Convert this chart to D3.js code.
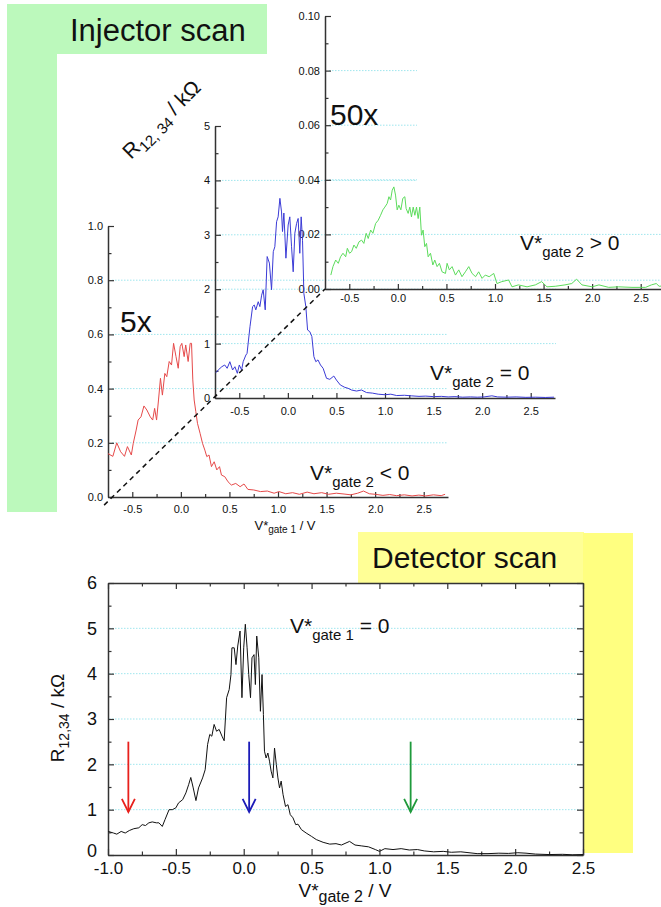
<!DOCTYPE html>
<html><head><meta charset="utf-8">
<script src="https://cdn.jsdelivr.net/npm/d3@7"></script>
<style>
body{margin:0;background:#fff}
svg{display:block}
text{font-family:"Liberation Sans",Arial,Helvetica,sans-serif}
</style>
</head><body><svg id="c" width="661" height="907"></svg>
<script>
// ---------------- DATA ----------------
const injXTicks = [-0.5, 0, 0.5, 1, 1.5, 2, 2.5];
const injXMinor = [-0.75, -0.25, 0.25, 0.75, 1.25, 1.75, 2.25];
const redYTicks = [0, 0.2, 0.4, 0.6, 0.8, 1.0];
const redYMinor = [0.1, 0.3, 0.5, 0.7, 0.9];
const blueYTicks = [0, 1, 2, 3, 4, 5];
const blueYMinor = [0.5, 1.5, 2.5, 3.5, 4.5];
const greenYTicks = [0, 0.02, 0.04, 0.06, 0.08, 0.10];
const greenYMinor = [0.01, 0.03, 0.05, 0.07, 0.09];
const detXTicks = [-1, -0.5, 0, 0.5, 1, 1.5, 2, 2.5];
const detXMinor = [-0.75, -0.25, 0.25, 0.75, 1.25, 1.75, 2.25];
const detYTicks = [0, 1, 2, 3, 4, 5, 6];
const detYMinor = [0.5, 1.5, 2.5, 3.5, 4.5, 5.5];

// injector scan, V*gate2 < 0 (red)
const redCurve = [
[-0.75,0.16],[-0.70,0.15],[-0.66,0.20],[-0.62,0.167],[-0.58,0.15],[-0.55,0.186],[-0.51,0.155],[-0.49,0.198],
[-0.46,0.247],[-0.44,0.284],[-0.41,0.296],[-0.38,0.336],[-0.35,0.321],[-0.315,0.296],[-0.29,0.284],[-0.27,0.327],
[-0.25,0.284],[-0.23,0.358],[-0.21,0.438],[-0.19,0.376],[-0.165,0.456],[-0.145,0.444],[-0.12,0.50],[-0.096,0.487],
[-0.075,0.567],[-0.05,0.518],[-0.027,0.475],[-0.007,0.555],[0.01,0.567],[0.034,0.518],[0.05,0.561],[0.075,0.50],
[0.096,0.567],[0.11,0.567],[0.123,0.432],[0.137,0.358],[0.154,0.315],[0.171,0.272],[0.198,0.235],[0.223,0.198],
[0.247,0.173],[0.267,0.149],[0.29,0.155],[0.315,0.112],[0.343,0.130],[0.37,0.10],[0.398,0.112],[0.418,0.081],
[0.452,0.075],[0.486,0.056],[0.52,0.044],[0.565,0.05],[0.61,0.038],[0.65,0.048],[0.69,0.028],[0.75,0.026],
[0.82,0.020],[0.89,0.022],[0.96,0.014],[1.01,0.02],[1.08,0.012],[1.15,0.016],[1.22,0.010],[1.30,0.018],
[1.37,0.012],[1.45,0.016],[1.52,0.010],[1.60,0.014],[1.68,0.011],[1.75,0.008],[1.82,0.014],[1.88,0.022],
[1.94,0.012],[2.00,0.010],[2.08,0.006],[2.15,0.009],[2.22,0.005],[2.30,0.008],[2.38,0.004],[2.45,0.007],
[2.52,0.004],[2.60,0.008],[2.68,0.005],[2.72,0.010]
];
// injector scan, V*gate2 = 0 (blue)
const blueCurve = [
[-0.74,0.465],[-0.717,0.515],[-0.68,0.575],[-0.65,0.607],[-0.625,0.546],[-0.597,0.667],[-0.569,0.515],[-0.545,0.575],
[-0.52,0.454],[-0.50,0.607],[-0.476,0.515],[-0.46,0.667],[-0.432,0.79],[-0.42,0.82],[-0.39,1.31],[-0.363,1.68],
[-0.346,1.71],[-0.33,1.62],[-0.305,1.77],[-0.288,1.68],[-0.27,1.89],[-0.254,1.99],[-0.233,1.62],[-0.213,2.60],
[-0.19,2.48],[-0.168,1.99],[-0.15,2.69],[-0.134,2.78],[-0.116,3.24],[-0.10,3.33],[-0.082,3.67],[-0.065,3.42],
[-0.055,3.06],[-0.041,3.40],[-0.02,2.57],[0.003,3.18],[0.02,3.33],[0.038,2.78],[0.055,2.32],[0.072,3.03],
[0.09,3.21],[0.106,3.30],[0.123,2.66],[0.137,3.33],[0.151,2.90],[0.165,1.92],[0.185,1.68],[0.203,1.25],
[0.226,1.22],[0.247,1.13],[0.268,0.76],[0.288,0.667],[0.31,0.70],[0.336,0.607],[0.363,0.546],[0.398,0.362],
[0.432,0.343],[0.473,0.404],[0.50,0.33],[0.54,0.239],[0.586,0.196],[0.62,0.178],[0.655,0.147],[0.707,0.128],
[0.758,0.147],[0.81,0.10],[0.87,0.09],[0.93,0.07],[1.00,0.06],[1.06,0.07],[1.12,0.045],[1.20,0.05],
[1.27,0.04],[1.35,0.03],[1.42,0.035],[1.50,0.025],[1.58,0.03],[1.65,0.02],[1.72,0.025],[1.80,0.015],
[1.88,0.02],[1.95,0.015],[2.02,0.02],[2.10,0.04],[2.16,0.02],[2.25,0.015],[2.35,0.02],[2.45,0.012],
[2.55,0.015],[2.65,0.01],[2.74,0.015]
];
// injector scan, V*gate2 > 0 (green)
const greenCurve = [
[-0.69,0.0051],[-0.668,0.0082],[-0.64,0.0106],[-0.613,0.0094],[-0.59,0.0118],[-0.565,0.0131],[-0.537,0.0118],[-0.52,0.0149],
[-0.497,0.0131],[-0.476,0.0137],[-0.452,0.0161],[-0.428,0.0149],[-0.40,0.0173],[-0.373,0.0179],[-0.35,0.0167],[-0.326,0.0204],
[-0.305,0.0185],[-0.28,0.0216],[-0.257,0.0204],[-0.229,0.024],[-0.202,0.0252],[-0.178,0.027],[-0.154,0.029],[-0.134,0.030],
[-0.11,0.0313],[-0.092,0.0338],[-0.075,0.0326],[-0.058,0.0362],[-0.041,0.0374],[-0.024,0.0344],[-0.007,0.029],[0.01,0.0307],
[0.031,0.029],[0.051,0.0332],[0.072,0.0338],[0.085,0.0295],[0.106,0.0277],[0.123,0.030],[0.14,0.0264],[0.158,0.030],
[0.175,0.027],[0.192,0.030],[0.209,0.0258],[0.226,0.030],[0.243,0.0197],[0.26,0.0216],[0.277,0.0155],[0.295,0.0167],
[0.312,0.0118],[0.336,0.0131],[0.36,0.0088],[0.38,0.0106],[0.404,0.0082],[0.428,0.0094],[0.455,0.0063],[0.49,0.0057],
[0.507,0.0094],[0.53,0.007],[0.558,0.0082],[0.593,0.0051],[0.627,0.007],[0.66,0.0045],[0.695,0.0063],[0.73,0.0082],
[0.764,0.0057],[0.80,0.0045],[0.832,0.0063],[0.867,0.0039],[0.90,0.0051],[0.94,0.0045],[0.987,0.0057],[1.02,0.002],
[1.07,0.0027],[1.14,0.0033],[1.175,0.0008],[1.24,0.0015],[1.33,0.0008],[1.415,0.0015],[1.48,0.0027],[1.535,0.0008],
[1.62,0.001],[1.72,0.0015],[1.79,0.002],[1.84,0.0036],[1.895,0.0015],[2.0,0.0008],[2.07,0.0015],[2.17,0.0006],
[2.27,0.0008],[2.41,0.0006],[2.55,0.0006],[2.61,0.0015],[2.66,0.002],[2.69,0.001],[2.75,0.0012]
];
// detector scan, V*gate1 = 0 (black)
const detCurve = [
[-0.998,0.52],[-0.96,0.485],[-0.935,0.46],[-0.903,0.52],[-0.873,0.485],[-0.843,0.54],[-0.81,0.58],[-0.773,0.60],
[-0.748,0.67],[-0.724,0.65],[-0.699,0.71],[-0.674,0.73],[-0.644,0.71],[-0.625,0.71],[-0.60,0.63],[-0.58,0.78],
[-0.55,1.0],[-0.526,1.0],[-0.50,1.04],[-0.48,1.15],[-0.45,1.22],[-0.426,1.37],[-0.406,1.55],[-0.39,1.71],
[-0.372,1.48],[-0.352,1.20],[-0.333,1.48],[-0.303,1.70],[-0.284,1.88],[-0.266,2.44],[-0.25,2.66],[-0.235,2.62],
[-0.218,2.88],[-0.20,2.73],[-0.181,2.77],[-0.16,2.62],[-0.144,2.52],[-0.126,3.47],[-0.107,3.65],[-0.094,3.98],
[-0.087,4.57],[-0.07,4.57],[-0.057,4.20],[-0.044,4.61],[-0.027,4.94],[-0.013,3.47],[0.0,4.57],[0.012,5.09],
[0.025,4.57],[0.037,3.98],[0.05,3.47],[0.061,4.35],[0.076,4.42],[0.086,3.76],[0.096,4.83],[0.111,4.35],
[0.123,3.17],[0.135,3.98],[0.145,3.10],[0.153,2.29],[0.165,2.14],[0.178,2.25],[0.19,2.07],[0.202,1.85],
[0.215,1.70],[0.227,2.36],[0.24,2.0],[0.252,1.70],[0.264,1.48],[0.276,1.63],[0.29,1.33],[0.308,1.07],
[0.326,1.11],[0.343,0.89],[0.363,0.82],[0.383,0.67],[0.40,0.68],[0.425,0.56],[0.46,0.485],[0.50,0.41],
[0.535,0.34],[0.585,0.28],[0.634,0.24],[0.68,0.25],[0.72,0.22],[0.78,0.30],[0.82,0.22],[0.87,0.20],
[0.92,0.18],[0.97,0.12],[1.0,0.08],[1.04,0.14],[1.1,0.12],[1.16,0.14],[1.22,0.11],[1.28,0.12],
[1.33,0.09],[1.4,0.07],[1.47,0.08],[1.53,0.06],[1.6,0.07],[1.66,0.05],[1.72,0.03],[1.8,0.03],
[1.88,0.04],[1.95,0.035],[2.02,0.05],[2.08,0.04],[2.15,0.02],[2.25,0.01],[2.35,0.015],[2.42,0.005],[2.5,0.01]
];
// arrows in the detector scan mark the three gate-2 settings
const arrowX = [-0.85, 0.04, 1.23];
const arrowTop = 2.5, arrowTip = 0.95;

// ---------------- DRAW ----------------
const svg = d3.select('#c');
const FONT = '"Liberation Sans",Arial,Helvetica,sans-serif';
const AX = '#333', GRID = '#9fe6ee';

// decorative colour boxes
const deco = svg.append('g');
deco.append('rect').attr('x',7).attr('y',4).attr('width',260).attr('height',50).attr('fill','#bcf9bc');
deco.append('rect').attr('x',7).attr('y',4).attr('width',50).attr('height',508).attr('fill','#bcf9bc');
deco.append('rect').attr('x',358).attr('y',532).attr('width',226).attr('height',52).attr('fill','#ffff96');
deco.append('rect').attr('x',583).attr('y',533).attr('width',50).attr('height',320).attr('fill','#ffff80');

// scales
const xRed = d3.scaleLinear().domain([-0.75,2.75]).range([108,448]);
const yRed = d3.scaleLinear().domain([0,1]).range([497,226]);
const xBlue = d3.scaleLinear().domain([-0.75,2.75]).range([215,555]);
const yBlue = d3.scaleLinear().domain([0,5]).range([398,126]);
const xGreen = d3.scaleLinear().domain([-0.75,2.75]).range([325,665]);
const yGreen = d3.scaleLinear().domain([0,0.1]).range([289,16]);
const xDet = d3.scaleLinear().domain([-1,2.5]).range([108,583]);
const yDet = d3.scaleLinear().domain([0,6]).range([855,583]);

const gridG = svg.append('g');
function grid(yScale, vals, x0, x1s){
  vals.forEach((v,i)=>{
    gridG.append('line').attr('x1',x0).attr('x2',x1s[i]).attr('y1',yScale(v)).attr('y2',yScale(v))
      .attr('stroke',GRID).attr('stroke-width',1).attr('stroke-dasharray','1.5,1.5');
  });
}
grid(yRed, [0.2,0.4,0.6,0.8], 112, [448,448,448,661]);
grid(yBlue, [1,2,3,4], 219, [556,556,325,417]);
grid(yGreen, [0.02,0.04,0.06,0.08], 329, [661,417,417,417]);
grid(yDet, [1,2,3,4,5], 109, [582,582,582,582,582]);

function styleAxis(g, size, showDomain=true){
  g.attr('font-family',FONT).attr('font-size',size);
  g.select('.domain').attr('stroke',AX).attr('stroke-width',1.5).attr('display',showDomain?null:'none');
  g.selectAll('.tick line').attr('stroke',AX).attr('stroke-width',1.2);
  g.selectAll('.tick text').attr('fill','#111');
}
function injAxes(xs, ys, yT, yM, fmtY, xpad, ypad){
  const gx = svg.append('g').attr('transform',`translate(0,${ys.range()[0]})`)
    .call(d3.axisBottom(xs).tickValues(injXTicks).tickSize(-5).tickSizeOuter(0).tickPadding(xpad).tickFormat(d=>d.toFixed(1)));
  styleAxis(gx, 11);
  const gxm = svg.append('g').attr('transform',`translate(0,${ys.range()[0]})`)
    .call(d3.axisBottom(xs).tickValues(injXMinor.filter(v=>v>-0.75)).tickSize(-3).tickSizeOuter(0).tickFormat(''));
  styleAxis(gxm, 11, false);
  const gy = svg.append('g').attr('transform',`translate(${xs.range()[0]},0)`)
    .call(d3.axisLeft(ys).tickValues(yT).tickSize(-6).tickSizeOuter(0).tickPadding(ypad).tickFormat(fmtY));
  styleAxis(gy, 11);
  const gym = svg.append('g').attr('transform',`translate(${xs.range()[0]},0)`)
    .call(d3.axisLeft(ys).tickValues(yM).tickSize(-3.5).tickSizeOuter(0).tickFormat(''));
  styleAxis(gym, 11, false);
}
injAxes(xRed, yRed, redYTicks, redYMinor, d=>d.toFixed(1), 8, 5);
injAxes(xBlue, yBlue, blueYTicks, blueYMinor, d=>d.toFixed(0), 9, 5);
injAxes(xGreen, yGreen, greenYTicks, greenYMinor, d=>d.toFixed(2), 5, 5);

// detector axes (full frame, inward ticks)
(function(){
  const b = svg.append('g').attr('transform','translate(0,855)')
    .call(d3.axisBottom(xDet).tickValues(detXTicks).tickSize(-6).tickSizeOuter(0).tickPadding(7).tickFormat(d=>d.toFixed(1)));
  styleAxis(b, 17);
  const bm = svg.append('g').attr('transform','translate(0,855)')
    .call(d3.axisBottom(xDet).tickValues(detXMinor).tickSize(-3.5).tickSizeOuter(0).tickFormat(''));
  styleAxis(bm, 17, false);
  const t = svg.append('g').attr('transform','translate(0,583)')
    .call(d3.axisTop(xDet).tickValues(detXTicks).tickSize(-6).tickSizeOuter(0).tickFormat(''));
  styleAxis(t, 17);
  const tm = svg.append('g').attr('transform','translate(0,583)')
    .call(d3.axisTop(xDet).tickValues(detXMinor).tickSize(-3.5).tickSizeOuter(0).tickFormat(''));
  styleAxis(tm, 17, false);
  const l = svg.append('g').attr('transform','translate(108,0)')
    .call(d3.axisLeft(yDet).tickValues(detYTicks).tickSize(-6).tickSizeOuter(0).tickPadding(11).tickFormat(d=>d.toFixed(0)));
  styleAxis(l, 18);
  l.selectAll('.tick text').filter(d=>d===0).attr('dy','0.1em');
  const lm = svg.append('g').attr('transform','translate(108,0)')
    .call(d3.axisLeft(yDet).tickValues(detYMinor).tickSize(-3.5).tickSizeOuter(0).tickFormat(''));
  styleAxis(lm, 18, false);
  const r = svg.append('g').attr('transform','translate(583,0)')
    .call(d3.axisRight(yDet).tickValues(detYTicks).tickSize(-6).tickSizeOuter(0).tickFormat(''));
  styleAxis(r, 18);
  const rm = svg.append('g').attr('transform','translate(583,0)')
    .call(d3.axisRight(yDet).tickValues(detYMinor).tickSize(-3.5).tickSizeOuter(0).tickFormat(''));
  styleAxis(rm, 18, false);
})();

// curves
function curve(data, xs, ys, color){
  svg.append('path').datum(data)
    .attr('d', d3.line().x(d=>xs(d[0])).y(d=>ys(d[1])))
    .attr('fill','none').attr('stroke',color).attr('stroke-width',1).attr('stroke-linejoin','round');
}
curve(redCurve, xRed, yRed, '#e64a4a');
curve(blueCurve, xBlue, yBlue, '#3b3bd6');
curve(greenCurve, xGreen, yGreen, '#5cdc5c');
curve(detCurve, xDet, yDet, '#111');

// dashed line joining the origins
svg.append('line')
  .attr('x1', xRed(-0.79)).attr('y1', yRed(-0.03))
  .attr('x2', xGreen(-0.75)).attr('y2', yGreen(0))
  .attr('stroke','#111').attr('stroke-width',1.5).attr('stroke-dasharray','5,4');

// arrows
const arrowCols = ['#e8201c','#1c1cb8','#1f9a3c'];
arrowX.forEach((v,i)=>{
  const x = xDet(v), y0 = yDet(arrowTop), y1 = yDet(arrowTip);
  svg.append('line').attr('x1',x).attr('x2',x).attr('y1',y0).attr('y2',y1)
    .attr('stroke',arrowCols[i]).attr('stroke-width',1.8);
  svg.append('polyline').attr('points',`${x-6.5},${y1-13} ${x},${y1} ${x+6.5},${y1-13}`)
    .attr('fill','none').attr('stroke',arrowCols[i]).attr('stroke-width',1.8);
});

// texts
function rich(x, y, parts, opts={}){
  const t = svg.append('text').attr('x',x).attr('y',y).attr('fill','#111')
    .attr('text-anchor',opts.anchor||'start');
  if (opts.transform) t.attr('transform',opts.transform);
  let cur = 0;
  parts.forEach(p=>{
    const dy = (p.dy||0) - cur; cur = p.dy||0;
    t.append('tspan').attr('dy',dy).attr('font-size',p.s).text(p.t);
  });
  return t;
}
svg.append('text').attr('x',70).attr('y',41).attr('font-size',31).attr('fill','#111').text('Injector scan');
svg.append('text').attr('x',372).attr('y',568).attr('font-size',30).attr('fill','#111').text('Detector scan');
svg.append('text').attr('x',120).attr('y',332).attr('font-size',30).attr('fill','#111').text('5x');
svg.append('text').attr('x',330).attr('y',125).attr('font-size',30).attr('fill','#111').text('50x');

rich(310, 480, [{t:'V*',s:21},{t:'gate 2',s:15,dy:7},{t:' < 0',s:21,dy:0}]);
rich(430, 380, [{t:'V*',s:21},{t:'gate 2',s:15,dy:7},{t:' = 0',s:21,dy:0}]);
rich(520, 250, [{t:'V*',s:21},{t:'gate 2',s:15,dy:7},{t:' > 0',s:21,dy:0}]);
rich(290, 633, [{t:'V*',s:21},{t:'gate 1',s:15,dy:7},{t:' = 0',s:21,dy:0}]);

rich(285, 530, [{t:'V*',s:13},{t:'gate 1',s:10,dy:3},{t:' / V',s:13,dy:0}], {anchor:'middle'});
rich(345, 897, [{t:'V*',s:19},{t:'gate 2',s:16,dy:5},{t:' / V',s:19,dy:0}], {anchor:'middle'});
rich(0, 0, [{t:'R',s:19},{t:'12,34',s:14,dy:5},{t:' / kΩ',s:19,dy:0}], {anchor:'middle', transform:'translate(64,718) rotate(-90)'});
rich(0, 0, [{t:'R',s:21},{t:'12, 34',s:15,dy:5},{t:' / kΩ',s:21,dy:0}], {anchor:'start', transform:'translate(131,160) rotate(-45)'});
</script>
</body></html>
